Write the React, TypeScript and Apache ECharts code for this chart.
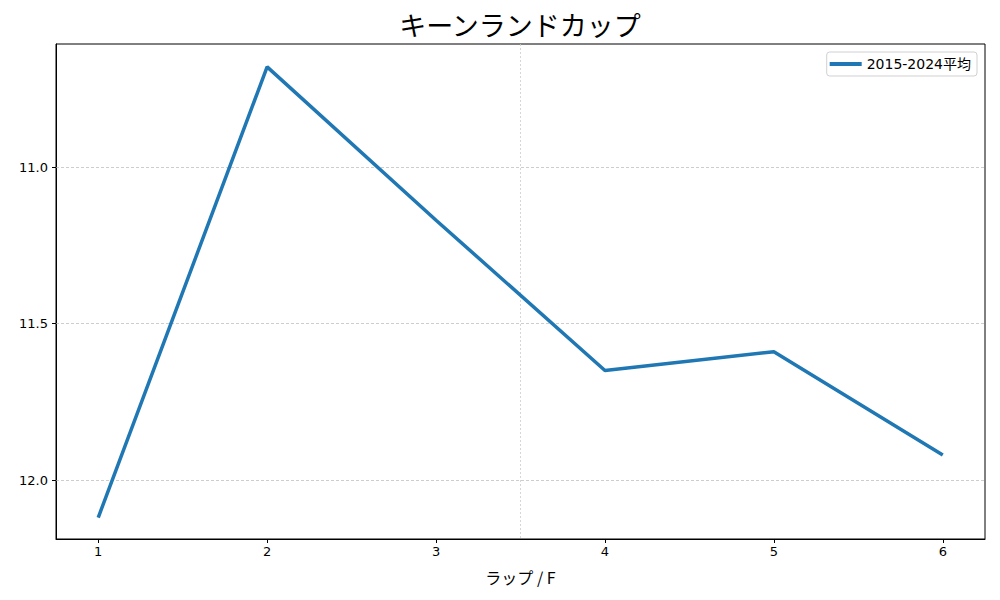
import React, { useEffect, useRef } from "react";
import * as echarts from "echarts";

const laps = [1, 2, 3, 4, 5, 6];
const avgTimes = [12.12, 10.68, 11.17, 11.65, 11.59, 11.92];
const yTicks = [11.0, 11.5, 12.0];
const seriesName = "2015-2024平均";
const titleText = "キーンランドカップ";
const xName = "ラップ / F";
const vLine = 3.5;

const FONT = "'Noto Sans CJK JP', 'Noto Sans', sans-serif";
const NUMFONT = "'DejaVu Sans', 'Noto Sans CJK JP', sans-serif";

export default function App() {
  const ref = useRef<HTMLDivElement>(null);
  useEffect(() => {
    const chart = echarts.init(ref.current!, null, { renderer: "svg" });
    const data = laps.map((x, i) => [x, avgTimes[i]]);
    chart.setOption({
      animation: false,
      textStyle: { fontFamily: FONT },
      graphic: [
        {
          type: "text",
          x: 520,
          y: 24,
          style: {
            text: titleText,
            fontFamily: FONT,
            fontSize: 27,
            fill: "#000",
            align: "center",
            verticalAlign: "middle",
          },
        },
      ],
      legend: {
        data: [{ name: seriesName, icon: "rect" }],
        right: 23,
        top: 52,
        itemWidth: 32,
        itemHeight: 4,
        itemGap: 8,
        padding: [5, 6, 5, 3],
        borderColor: "#d0d0d0",
        borderWidth: 1,
        borderRadius: 3,
        textStyle: { fontFamily: NUMFONT, fontSize: 14, color: "#000" },
      },
      grid: {
        left: 56,
        right: 15,
        top: 44,
        bottom: 61,
        show: true,
        borderColor: "#000",
        borderWidth: 1,
        backgroundColor: "transparent",
      },
      xAxis: {
        type: "value",
        min: 0.75,
        max: 6.25,
        name: xName,
        nameLocation: "middle",
        nameGap: 30,
        nameTextStyle: { fontFamily: FONT, fontSize: 16, color: "#000" },
        axisLine: { show: true, lineStyle: { color: "#000", width: 1 } },
        axisTick: { show: true, length: 4, lineStyle: { color: "#000" }, customValues: laps },
        axisLabel: { color: "#000", fontSize: 13, margin: 6, customValues: laps, fontFamily: NUMFONT },
        splitLine: { show: false },
      },
      yAxis: {
        type: "value",
        inverse: true,
        min: 10.607,
        max: 12.1885,
        axisLine: { show: true, lineStyle: { color: "#000", width: 1 } },
        axisTick: { show: true, length: 4, lineStyle: { color: "#000" }, customValues: yTicks },
        axisLabel: {
          color: "#000",
          fontSize: 13,
          margin: 8,
          customValues: yTicks,
          fontFamily: NUMFONT,
          formatter: (v: number) => v.toFixed(1),
        },
        splitLine: { show: false },
      },
      series: [
        {
          name: seriesName,
          type: "line",
          data,
          showSymbol: false,
          symbol: "none",
          lineStyle: { color: "#1f77b4", width: 3.5 },
          itemStyle: { color: "#1f77b4" },
          z: 3,
          markLine: {
            silent: true,
            symbol: "none",
            label: { show: false },
            z: 1,
            data: [
              ...yTicks.map((v) => ({
                yAxis: v,
                lineStyle: { color: "#b8b8b8", width: 0.7, type: [3, 2] },
              })),
              { xAxis: vLine, lineStyle: { color: "#cccccc", width: 0.8, type: [2, 2] } },
            ],
          },
        },
      ],
    });
    return () => chart.dispose();
  }, []);
  return (
    <div
      ref={ref}
      style={{ position: "fixed", left: 0, top: 0, width: 1000, height: 600, background: "#fff" }}
    />
  );
}
